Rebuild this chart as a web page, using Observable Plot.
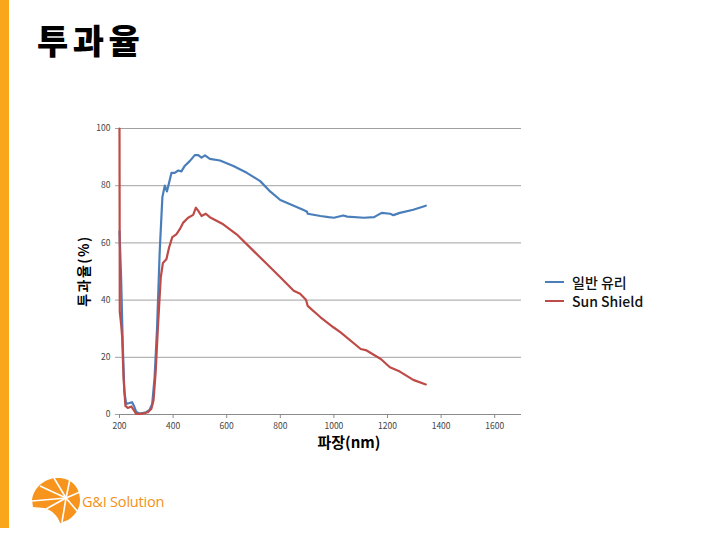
<!DOCTYPE html>
<html><head><meta charset="utf-8">
<script src="https://cdn.jsdelivr.net/npm/d3@7"></script>
<script src="https://cdn.jsdelivr.net/npm/@observablehq/plot@0.6"></script>
<style>
body{margin:0;background:#fff;font-family:"Noto Sans CJK KR","Noto Sans",sans-serif;}
#wrap{position:relative;width:720px;height:538px;overflow:hidden;}
#bar{position:absolute;left:0;top:0;width:9px;height:528px;background:#F9A61A;}
#title{position:absolute;left:37px;top:15px;font-size:34px;font-weight:900;color:#000;letter-spacing:4.5px;}
#chart{position:absolute;left:0;top:0;}
.leg{position:absolute;left:545px;font-size:14px;font-weight:500;color:#111;display:flex;align-items:center;}
.leg span.sw{display:inline-block;width:19px;height:2px;margin-right:8px;}
#logo{position:absolute;left:30px;top:476px;}
#logotext{position:absolute;left:82px;top:492px;font-family:"Open Sans",sans-serif;font-size:14.5px;color:#F39019;letter-spacing:-0.2px;}
</style></head>
<body><div id="wrap">
<div id="chart"></div>
<div id="bar"></div>
<div id="title">투과율</div>
<div class="leg" style="top:272px"><span class="sw" style="background:#4A7EBB"></span>일반 유리</div>
<div class="leg" style="top:291px"><span class="sw" style="background:#BE4B48"></span>Sun Shield</div>
<svg id="logo" width="52" height="48" viewBox="0 0 52 48">
<path d="M2,24 C4,10 16,2 28,2 C42,2 50,12 50,24 C50,34 44,40 38,44 L30,47 C28,40 22,34 14,32 L3,31 Z" fill="#F7941D"/>
<g stroke="#fff" stroke-width="1.6" fill="none">
<line x1="36" y1="22" x2="2" y2="25"/><line x1="36" y1="22" x2="10" y2="10"/><line x1="36" y1="22" x2="24" y2="2"/>
<line x1="36" y1="22" x2="40" y2="3"/><line x1="36" y1="22" x2="50" y2="16"/><line x1="36" y1="22" x2="48" y2="36"/>
<line x1="36" y1="22" x2="32" y2="46"/><line x1="36" y1="22" x2="16" y2="33"/>
</g></svg>
<div id="logotext">G&amp;I Solution</div>
</div>
<script>
const seriesNames = ["일반 유리", "Sun Shield"];
const colors = ["#4A7EBB", "#BE4B48"];
const blueX = [200,206,212,218,225,237,247,254,262,275,300,312,322,331,340,350,360,369,377,385,394,406,419,431,444,462,481,494,506,519,537,575,625,675,725,762,800,850,874,893,899,902,950,980,1000,1035,1050,1112,1150,1178,1210,1222,1246,1296,1343];
const blueY = [64,48,25,8,3.7,4,4.3,3,1,0.3,0.8,1.6,3.7,13,30,57,76,80,78,81,84.5,84.5,85.3,85,87,88.6,90.7,90.7,89.8,90.6,89.4,88.8,86.9,84.5,81.6,78,75,73,72,71.2,71,70.2,69.4,69,68.8,69.6,69.2,68.8,69,70.5,70.2,69.7,70.5,71.6,73];
const redX = [200,201,206,210,215,222,231,244,254,262,281,306,319,327,335,344,354,362,375,385,397,412,425,437,456,475,485,494,506,522,537,587,637,700,750,800,850,874,893,897,902,950,998,1025,1100,1122,1175,1209,1246,1296,1343];
const redY = [100,36,31.6,27,13,3,2.3,2.8,1.4,0.2,0.2,0.8,2,5,15,31.6,48,53,54.3,58.4,62,63,64.8,67,68.8,69.8,72.3,71.2,69.4,70.2,69,66.5,63,57.2,52.6,48,43.3,42.2,40.4,39.8,38,34,30.5,28.7,22.9,22.4,19.4,16.5,15,12.1,10.5];
const xTicks = [200,400,600,800,1000,1200,1400,1600];
const yTicks = [0,20,40,60,80,100];

const data = [
  ...blueX.map((x,i)=>({x, y: blueY[i], s: seriesNames[0]})),
  ...redX.map((x,i)=>({x, y: redY[i], s: seriesNames[1]}))
];

const chart = Plot.plot({
  width: 720, height: 538,
  marginLeft: 119, marginRight: 199, marginTop: 128, marginBottom: 124,
  style: {fontFamily: '"Noto Sans CJK KR","Noto Sans",sans-serif', background: "transparent"},
  x: {domain: [200, 1700]},
  y: {domain: [0, 100]},
  color: {domain: seriesNames, range: colors},
  marks: [
    Plot.gridY(yTicks, {stroke: "#8a8a8a", strokeOpacity: 0.8, strokeWidth: 1, x1: 200, x2: 1700, insetLeft: -4}),
    Plot.ruleY([0], {stroke: "#8a8a8a", strokeWidth: 1}),
    Plot.axisX(xTicks, {tickSize: 4, stroke: "#8a8a8a", fontSize: 8.5, fill: "#444", tickPadding: 4, tickFormat: d => String(d),
      label: null}),
    Plot.axisY(yTicks, {tickSize: 0, fontSize: 8.5, fill: "#444", tickPadding: 9, label: null}),
    Plot.line(data, {x: "x", y: "y", z: "s", stroke: "s", strokeWidth: 2.2, curve: "linear"})
  ]
});
const svg = d3.select(chart);
svg.append("text").text("파장(nm)")
  .attr("x", 349).attr("y", 448).attr("text-anchor", "middle")
  .style("font-size", "15px").style("font-weight", "700").style("fill", "#000");
svg.append("text").text("투과율(%)")
  .attr("transform", "translate(89,271) rotate(-90)").attr("text-anchor", "middle")
  .style("font-size", "14px").style("font-weight", "700").style("letter-spacing", "1.5px").style("fill", "#000");
document.getElementById("chart").appendChild(chart);
</script>
</body></html>
